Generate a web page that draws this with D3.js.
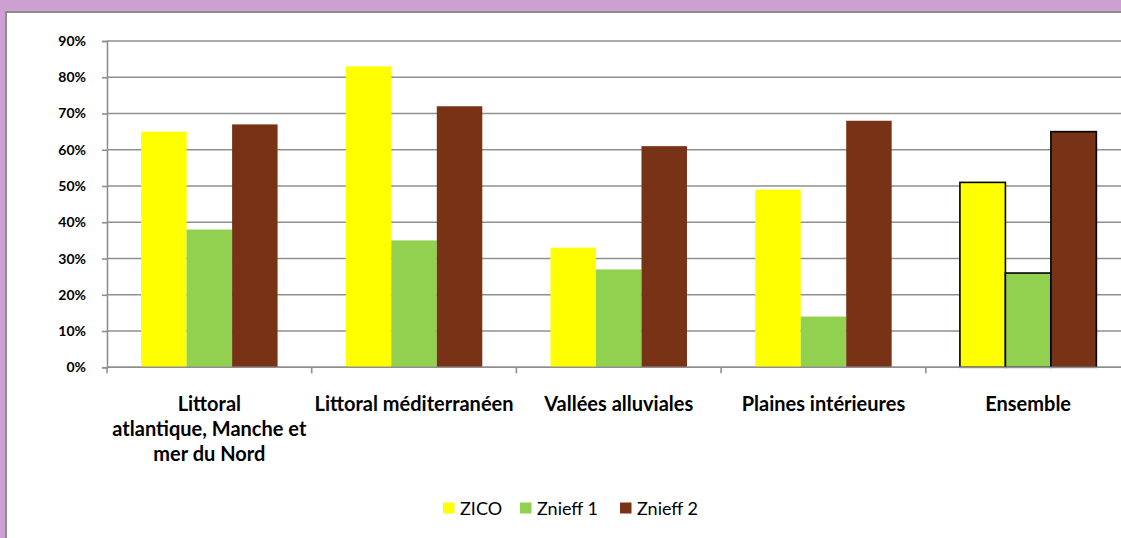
<!DOCTYPE html>
<html>
<head>
<meta charset="utf-8">
<script src="https://cdn.jsdelivr.net/npm/d3@7"></script>
<style>
  html, body { margin: 0; padding: 0; background: #cda0d2; }
  svg { display: block; }
  text { font-family: Lato, "Open Sans", sans-serif; }
</style>
</head>
<body>
<svg id="chart" width="1121" height="538"></svg>
<script>
// Share of each zone type covered by inventories
const categories = [
  "Littoral atlantique, Manche et mer du Nord",
  "Littoral méditerranéen",
  "Vallées alluviales",
  "Plaines intérieures",
  "Ensemble"
];
const categoryLines = [
  ["Littoral", "atlantique, Manche et", "mer du Nord"],
  ["Littoral méditerranéen"],
  ["Vallées alluviales"],
  ["Plaines intérieures"],
  ["Ensemble"]
];
const seriesNames = ["ZICO", "Znieff 1", "Znieff 2"];
const zico    = [0.65, 0.83, 0.33, 0.49, 0.51];
const znieff1 = [0.38, 0.35, 0.27, 0.14, 0.26];
const znieff2 = [0.67, 0.72, 0.61, 0.68, 0.65];
const seriesColors = ["#ffff00", "#92d050", "#783316"];
const yTicks = [0, 0.1, 0.2, 0.3, 0.4, 0.5, 0.6, 0.7, 0.8, 0.9];

const series = [zico, znieff1, znieff2];

const svg = d3.select("#chart");

// white chart panel with grey frame
svg.append("rect")
  .attr("x", 6).attr("y", 12)
  .attr("width", 1130).attr("height", 540)
  .attr("fill", "#ffffff")
  .attr("stroke", "#8c8c8c")
  .attr("stroke-width", 2);

const plotLeft = 107, plotTop = 41, plotBottom = 367.3;
const catStep = 204.7;
const plotRight = plotLeft + catStep * categories.length;

const x = d3.scaleBand()
  .domain(categories)
  .range([plotLeft, plotRight])
  .paddingInner(1 / 3)
  .paddingOuter(1 / 6);

const xs = d3.scaleBand()
  .domain(seriesNames)
  .range([0, x.bandwidth()]);

const y = d3.scaleLinear()
  .domain([0, 0.9])
  .range([plotBottom, plotTop]);

// horizontal gridlines
svg.append("g")
  .selectAll("line")
  .data(yTicks)
  .join("line")
  .attr("x1", plotLeft).attr("x2", plotRight)
  .attr("y1", d => y(d)).attr("y2", d => y(d))
  .attr("stroke", "#8f8f8f")
  .attr("stroke-width", 1.6);

// y axis
const yAxis = svg.append("g")
  .attr("transform", `translate(${plotLeft},0)`)
  .call(d3.axisLeft(y).tickValues(yTicks).tickFormat(d3.format(".0%")).tickSize(5).tickPadding(16));
yAxis.select(".domain").attr("stroke", "#8f8f8f").attr("stroke-width", 1.6);
yAxis.selectAll(".tick line").attr("stroke", "#8f8f8f").attr("stroke-width", 1.6);
yAxis.selectAll(".tick text")
  .attr("font-family", "Lato, sans-serif")
  .attr("font-size", 14)
  .attr("font-weight", "bold")
  .attr("fill", "#000");

// bars
const groups = svg.append("g")
  .selectAll("g")
  .data(categories)
  .join("g")
  .attr("transform", d => `translate(${x(d)},0)`);

groups.selectAll("rect")
  .data((c, i) => series.map((s, k) => ({ name: seriesNames[k], value: s[i], color: seriesColors[k], last: i === categories.length - 1 })))
  .join("rect")
  .attr("x", d => xs(d.name))
  .attr("width", xs.bandwidth())
  .attr("y", d => y(d.value))
  .attr("height", d => y(0) - y(d.value))
  .attr("fill", d => d.color)
  .attr("stroke", d => d.last ? "#000" : "none")
  .attr("stroke-width", 1.6);

// x axis line with category boundary ticks
svg.append("line")
  .attr("x1", plotLeft).attr("x2", plotRight)
  .attr("y1", plotBottom).attr("y2", plotBottom)
  .attr("stroke", "#8f8f8f").attr("stroke-width", 1.6);
svg.append("g")
  .selectAll("line")
  .data(d3.range(categories.length + 1))
  .join("line")
  .attr("x1", i => plotLeft + i * catStep)
  .attr("x2", i => plotLeft + i * catStep)
  .attr("y1", plotBottom).attr("y2", plotBottom + 6)
  .attr("stroke", "#8f8f8f").attr("stroke-width", 1.6);

// category labels
const labels = svg.append("g")
  .selectAll("text")
  .data(categories)
  .join("text")
  .attr("x", d => x(d) + x.bandwidth() / 2)
  .attr("y", 411)
  .attr("text-anchor", "middle")
  .attr("font-size", 20)
  .attr("font-weight", "bold")
  .attr("fill", "#000");
labels.selectAll("tspan")
  .data((d, i) => categoryLines[i])
  .join("tspan")
  .attr("x", function () { return this.parentNode.getAttribute("x"); })
  .attr("dy", (d, j) => j === 0 ? 0 : 25)
  .text(d => d);

// legend
const legendItems = [
  { name: seriesNames[0], color: seriesColors[0], sx: 443, tx: 460 },
  { name: seriesNames[1], color: seriesColors[1], sx: 520, tx: 537 },
  { name: seriesNames[2], color: seriesColors[2], sx: 620, tx: 637 }
];
const legend = svg.append("g");
legend.selectAll("rect")
  .data(legendItems)
  .join("rect")
  .attr("x", d => d.sx).attr("y", 502.5)
  .attr("width", 11.5).attr("height", 11)
  .attr("fill", d => d.color);
legend.selectAll("text")
  .data(legendItems)
  .join("text")
  .attr("x", d => d.tx).attr("y", 514.5)
  .attr("font-size", 18)
  .attr("fill", "#000")
  .text(d => d.name);
</script>
</body>
</html>
